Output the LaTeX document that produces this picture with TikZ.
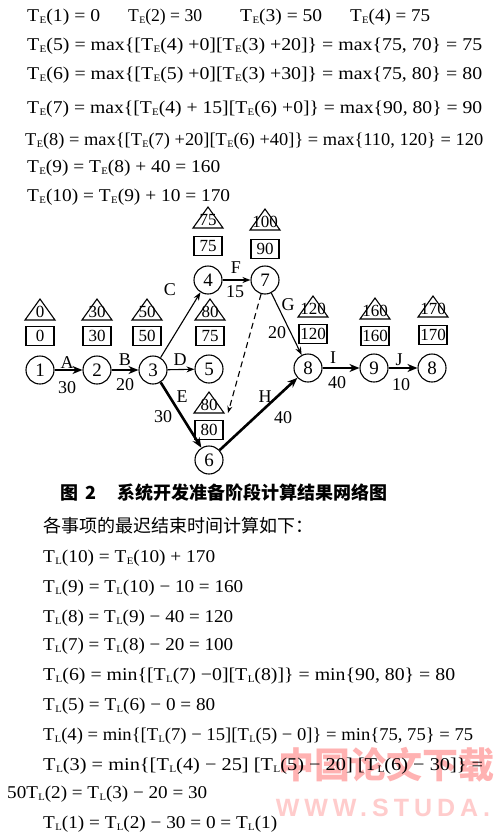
\documentclass[tikz,border=0pt]{standalone}
\usepackage{fontspec}
\usepackage{graphicx}
\setmainfont{Liberation Serif}
\newfontfamily\cjk{Noto Sans CJK SC}
\newfontfamily\wmfont[LetterSpace=20]{Liberation Sans}
\usetikzlibrary{arrows.meta}
\newcommand\TE{T\kern0.02em\raisebox{-0.25ex}{\fontsize{10}{10}\selectfont E}}
\newcommand\TL{T\kern0.02em\raisebox{-0.25ex}{\fontsize{10}{10}\selectfont L}}
\newcommand\fw[2]{\resizebox{#1pt}{\height}{#2}}
\newcommand\tri[4]{%
  \draw[line width=1.1pt] (#1-15,#2) -- (#1,#2-21) -- (#1+15,#2) -- cycle;
  \node[tv] (#4) at (#1,#2-8) {#3};}
\begin{document}
\begin{tikzpicture}[x=1pt,y={(0pt,-1pt)},
  ev/.style={circle, draw, line width=1.1pt, minimum size=28pt, inner sep=0pt, font=\fontsize{19}{19}\selectfont},
  bx/.style={draw, line width=1.1pt, minimum width=28pt, minimum height=19pt, inner sep=0pt, font=\fontsize{17}{17}\selectfont},
  tv/.style={inner sep=0pt, font=\fontsize{17}{17}\selectfont},
  lab/.style={inner sep=0pt, font=\fontsize{18}{18}\selectfont},
  crit/.style={line width=2.6pt, -{Stealth[length=10pt,width=8pt]}},
  norm/.style={line width=1.1pt, -{Stealth[length=8pt,width=6pt]}},
  txt/.style={anchor=base west, inner sep=0pt, font=\fontsize{18}{18}\selectfont},
  cjktxt/.style={anchor=west, inner sep=0pt, font=\cjk\fontsize{18}{18}\selectfont}]
\useasboundingbox (0,0) rectangle (500,838);
\fill[white] (0,0) rectangle (500,838);
% watermark
\node[inner sep=0pt, text=red!30, font=\cjk\bfseries\fontsize{36}{36}\selectfont] (wm1) at (386,765) {中国论文下载};
\node[inner sep=0pt, text=red!20, font=\wmfont\bfseries\fontsize{25}{25}\selectfont] (wm2) at (383,808) {WWW.STUDA.};
% early times
\node[txt] (e1) at (27,21) {\fw{73}{\TE(1) = 0}};
\node[txt] (e2) at (128,21) {\fw{74}{\TE(2) = 30}};
\node[txt] (e3) at (240,21) {\fw{82}{\TE(3) = 50}};
\node[txt] (e4) at (350,21) {\fw{80}{\TE(4) = 75}};
\node[txt] (e5) at (27,50) {\fw{455}{\TE(5) = max\{[\TE(4) +0][\TE(3) +20]\} = max\{75, 70\} = 75}};
\node[txt] (e6) at (27,79) {\fw{455}{\TE(6) = max\{[\TE(5) +0][\TE(3) +30]\} = max\{75, 80\} = 80}};
\node[txt] (e7) at (27,113) {\fw{455}{\TE(7) = max\{[\TE(4) + 15][\TE(6) +0]\} = max\{90, 80\} = 90}};
\node[txt] (e8) at (25,145) {\fw{458}{\TE(8) = max\{[\TE(7) +20][\TE(6) +40]\} = max\{110, 120\} = 120}};
\node[txt] (e9) at (27,172) {\fw{193}{\TE(9) = \TE(8) + 40 = 160}};
\node[txt] (e10) at (27,201) {\fw{203}{\TE(10) = \TE(9) + 10 = 170}};
% events
\node[ev] (n1) at (40,370) {1};
\node[ev] (n2) at (97,370) {2};
\node[ev] (n3) at (153,370) {3};
\node[ev] (n4) at (208,280) {4};
\node[ev] (n5) at (209,369) {5};
\node[ev] (n6) at (209,460) {6};
\node[ev] (n7) at (265,280) {7};
\node[ev] (n8) at (308,368) {8};
\node[ev] (n9) at (374,368) {9};
\node[ev] (n10) at (432,368) {8};
% boxes
\node[bx] (b1) at (40,336) {0};
\node[bx] (b2) at (97,336) {30};
\node[bx] (b3) at (147,336) {50};
\node[bx] (b5) at (210,336) {75};
\node[bx] (b4) at (208,246) {75};
\node[bx] (b7) at (265,249) {90};
\node[bx] (b8) at (313,334) {120};
\node[bx] (b9) at (375,336) {160};
\node[bx] (b10) at (433,335) {170};
\node[bx] (b6) at (209,430) {80};
% triangles
\tri{40}{320}{0}{t1}
\tri{97}{320}{30}{t2}
\tri{147}{320}{50}{t3}
\tri{210}{320}{80}{t5}
\tri{208}{228}{75}{t4}
\tri{265}{230}{100}{t7}
\tri{313}{317}{120}{t8}
\tri{375}{319}{160}{t9}
\tri{433}{317}{170}{t10}
\tri{209}{413}{80}{t6}
% activities
\draw[crit] (n1) -- (n2);
\draw[crit] (n2) -- (n3);
\draw[norm] (n3) -- (n4);
\draw[norm] (n3) -- (n5);
\draw[crit] (n3) -- (n6);
\draw[line width=1.5pt, -{Stealth[length=8pt,width=6pt]}] (n4) -- (n7);
\draw[norm] (n7) -- (n8);
\draw[crit] (n6) -- (n8);
\draw[crit] (n8) -- (n9);
\draw[crit] (n9) -- (n10);
\coordinate (dE) at (228,413);
\draw[line width=1.1pt, dash pattern=on 6pt off 4pt, -{Stealth[length=7pt,width=5pt]}] (n7) -- (dE);
% activity labels
\node[lab] (lA) at (67,363) {A};
\node[lab] (lA2) at (67,388) {30};
\node[lab] (lB) at (125,360) {B};
\node[lab] (lB2) at (125,385) {20};
\node[lab] (lC) at (170,290) {C};
\node[lab] (lD) at (180,360) {D};
\node[lab] (lE) at (182,397) {E};
\node[lab] (lE2) at (163,417) {30};
\node[lab] (lF) at (236,268) {F};
\node[lab] (lF2) at (235,292) {15};
\node[lab] (lG) at (288,305) {G};
\node[lab] (lG2) at (277,333) {20};
\node[lab] (lH) at (265,397) {H};
\node[lab] (lH2) at (283,418) {40};
\node[lab] (lI) at (333,358) {I};
\node[lab] (lI2) at (337,383) {40};
\node[lab] (lJ) at (399,360) {J};
\node[lab] (lJ2) at (401,385) {10};
% caption
\node[cjktxt, font=\cjk\bfseries\fontsize{18}{18}\selectfont] (cap1) at (60,493) {图\hspace{7pt}2};
\node[cjktxt, font=\cjk\bfseries\fontsize{18}{18}\selectfont] (cap2) at (117,493) {系统开发准备阶段计算结果网络图};
\node[cjktxt] (intro) at (43,526) {各事项的最迟结束时间计算如下：};
% latest times
\node[txt] (l10) at (43,562) {\fw{172}{\TL(10) = \TE(10) + 170}};
\node[txt] (l9) at (43,592) {\fw{200}{\TL(9) = \TL(10) − 10 = 160}};
\node[txt] (l8) at (43,622) {\fw{190}{\TL(8) = \TL(9) − 40 = 120}};
\node[txt] (l7) at (43,650) {\fw{190}{\TL(7) = \TL(8) − 20 = 100}};
\node[txt] (l6) at (43,680) {\fw{412}{\TL(6) = min\{[\TL(7) −0][\TL(8)]\} = min\{90, 80\} = 80}};
\node[txt] (l5) at (43,710) {\fw{172}{\TL(5) = \TL(6) − 0 = 80}};
\node[txt] (l4) at (43,740) {\fw{430}{\TL(4) = min\{[\TL(7) − 15][\TL(5) − 0]\} = min\{75, 75\} = 75}};
\node[txt] (l3) at (43,770) {\fw{440}{\TL(3) = min\{[\TL(4) − 25] [\TL(5) − 20] [\TL(6) − 30]\} =}};
\node[txt] (l2) at (7,798) {\fw{200}{50\TL(2) = \TL(3) − 20 = 30}};
\node[txt] (l1) at (43,828) {\fw{234}{\TL(1) = \TL(2) − 30 = 0 = \TL(1)}};
\end{tikzpicture}
\end{document}
